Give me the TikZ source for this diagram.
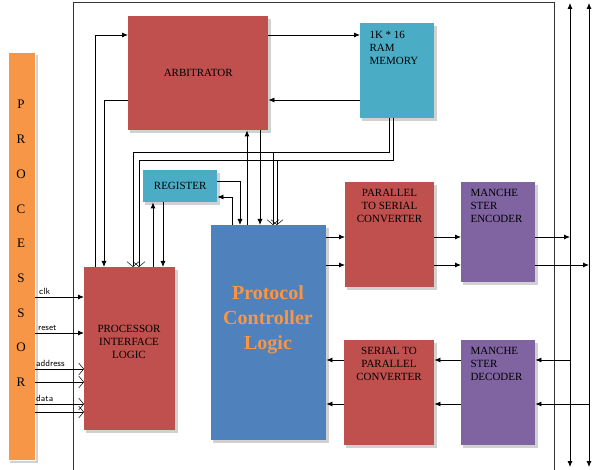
\documentclass[tikz,border=0pt]{standalone}
\usepackage{fontspec}
\setmainfont{Liberation Serif}
\usetikzlibrary{arrows.meta}
\definecolor{cred}{HTML}{C0504D}
\definecolor{cblue}{HTML}{4F81BD}
\definecolor{ccyan}{HTML}{4BACC6}
\definecolor{cpurp}{HTML}{8064A2}
\definecolor{corg}{HTML}{F79646}
\begin{document}
\begin{tikzpicture}[x=1pt,y=-1pt,
  blk/.style={draw=white,line width=1.5pt,minimum width=#1,inner sep=0pt},
  ln/.style={line width=0.8pt},
  ar/.style={ln,-{Latex[length=6pt,width=5pt]}},
  oa/.style={ln,-{Straight Barb[length=5pt,width=12pt,line width=0.5pt]}},
  lbl/.style={font=\fontsize{11}{13}\selectfont,align=center},
  sh/.style={fill=black!20}]
\useasboundingbox (0,0) rectangle (600,470);
% shadows
\foreach \a/\b/\c/\d in {8/52/35/460,128/16/268/130,360/23/434/118,143/170/217/202,84/267/175/430,211/225/326/440,345/182/434/287,461/182/535/282,344/340/434/445,461/340/535/445}
  \fill[black!18] (\a+2,\b+3) rectangle (\c+3,\d+3);
% frame
\draw[ln,black!80] (73,470) -- (73,2) -- (554,2) -- (554,470);
% blocks
\node[draw=white,fill=corg,minimum width=27pt,minimum height=408pt,inner sep=0,anchor=north west] (proc) at (8,52) {};
\foreach \l [count=\i] in {P,R,O,C,E,S,S,O,R}
  \node[font=\fontsize{13}{13}\selectfont] at (21,70+34.7*\i) {\l};
\node[fill=cred,minimum width=140pt,minimum height=114pt,anchor=north west,inner sep=0] (arb) at (128,16) {};
\node[lbl] at (arb.center) {ARBITRATOR};
\node[fill=ccyan,minimum width=74pt,minimum height=95pt,anchor=north west,inner sep=0] (ram) at (360,23) {};
\node[lbl,align=left,anchor=north west] at (366,28) {1K * 16\\RAM\\MEMORY};
\node[fill=ccyan,minimum width=74pt,minimum height=32pt,anchor=north west,inner sep=0] (reg) at (143,170) {};
\node[lbl] at (reg.center) {REGISTER};
\node[fill=cred,minimum width=91pt,minimum height=163pt,anchor=north west,inner sep=0] (pil) at (84,267) {};
\node[lbl] at (129,342) {PROCESSOR\\INTERFACE\\LOGIC};
\node[fill=cblue,minimum width=115pt,minimum height=215pt,anchor=north west,inner sep=0] (pcl) at (211,225) {};
\node[font=\bfseries\fontsize{20}{25}\selectfont,text=corg,align=center] at (268,320) {Protocol\\Controller\\Logic};
\node[fill=cred,minimum width=89pt,minimum height=105pt,anchor=north west,inner sep=0] (ps) at (345,182) {};
\node[lbl,anchor=north] at (389.5,186) {PARALLEL\\TO SERIAL\\CONVERTER};
\node[fill=cpurp,minimum width=74pt,minimum height=100pt,anchor=north west,inner sep=0] (enc) at (461,182) {};
\node[lbl,align=left,anchor=north west] at (467,186) {MANCHE\\STER\\ENCODER};
\node[fill=cred,minimum width=90pt,minimum height=105pt,anchor=north west,inner sep=0] (sp) at (344,340) {};
\node[lbl,anchor=north] at (389,344) {SERIAL TO\\PARALLEL\\CONVERTER};
\node[fill=cpurp,minimum width=74pt,minimum height=105pt,anchor=north west,inner sep=0] (dec) at (461,340) {};
\node[lbl,align=left,anchor=north west] at (467,344) {MANCHE\\STER\\DECODER};
% buses
\coordinate (b1t) at (570,3); \coordinate (b1b) at (570,467);
\coordinate (b2t) at (589,3); \coordinate (b2b) at (589,467);
\draw[ln,{Latex[length=6pt,width=5pt]}-{Latex[length=6pt,width=5pt]}] (b1t) -- (b1b);
\draw[ln,{Latex[length=6pt,width=5pt]}-{Latex[length=6pt,width=5pt]}] (b2t) -- (b2b);
% arbitrator <-> ram
\draw[ar] (arb.east |- 0,35) -- (ram.west |- 0,35);
\draw[ar] (ram.west |- 0,100) -- (arb.east |- 0,100);
\draw[ar] (pil.north -| 95,0) -- (95,35) -- (arb.west |- 0,35);
\draw[ar] (arb.west |- 0,100) -- (104,100) -- (pil.north -| 104,0);
\draw[ar] (pcl.north -| 247,0) -- (arb.south -| 247,0);
\draw[ar] (arb.south -| 260,0) -- (pcl.north -| 260,0);
% ram bottom lines
\draw[oa] (ram.south -| 389,0) -- (389,152) -- (133,152) -- (pil.north -| 133,0);
\draw[oa] (ram.south -| 393,0) -- (393,160) -- (139,160) -- (pil.north -| 139,0);
\draw[oa] (273,152) -- (pcl.north -| 273,0);
\draw[oa] (277,160) -- (pcl.north -| 277,0);
% register
\draw[ar] (reg.east |- 0,181) -- (240,181) -- (pcl.north -| 240,0);
\draw[ar] (pcl.north -| 232,0) -- (232,197) -- (reg.east |- 0,197);
\draw[ar] (pil.north -| 153,0) -- (reg.south -| 153,0);
\draw[ar] (reg.south -| 163,0) -- (pil.north -| 163,0);
% processor inputs
\draw[ar] (proc.east |- 0,297) -- (pil.west |- 0,297);
\draw[ar] (proc.east |- 0,333) -- (pil.west |- 0,333);
\draw[oa] (proc.east |- 0,369) -- (pil.west |- 0,369);
\draw[oa] (proc.east |- 0,382) -- (pil.west |- 0,382);
\draw[oa] (proc.east |- 0,404) -- (pil.west |- 0,404);
\draw[oa] (proc.east |- 0,412) -- (pil.west |- 0,412);
\node[font=\sffamily\fontsize{9}{9}\selectfont,anchor=south west,inner sep=1pt] at (38,296) {clk};
\node[font=\sffamily\fontsize{9}{9}\selectfont,anchor=south west,inner sep=1pt] at (37,332) {reset};
\node[font=\sffamily\fontsize{9}{9}\selectfont,anchor=south west,inner sep=1pt] at (35,368) {address};
\node[font=\sffamily\fontsize{9}{9}\selectfont,anchor=south west,inner sep=1pt] at (35,403) {data};
% tx path
\draw[ar] (pcl.east |- 0,237) -- (ps.west |- 0,237);
\draw[ar] (pcl.east |- 0,265) -- (ps.west |- 0,265);
\draw[ar] (ps.east |- 0,237) -- (enc.west |- 0,237);
\draw[ar] (ps.east |- 0,265) -- (enc.west |- 0,265);
\draw[ar] (enc.east |- 0,237) -- (b1t |- 0,237);
\draw[ar] (enc.east |- 0,265) -- (b2t |- 0,265);
% rx path
\draw[ar] (b1t |- 0,360) -- (dec.east |- 0,360);
\draw[ar] (b2t |- 0,404) -- (dec.east |- 0,404);
\draw[ar] (dec.west |- 0,360) -- (sp.east |- 0,360);
\draw[ar] (dec.west |- 0,404) -- (sp.east |- 0,404);
\draw[ar] (sp.west |- 0,360) -- (pcl.east |- 0,360);
\draw[ar] (sp.west |- 0,404) -- (pcl.east |- 0,404);
\end{tikzpicture}
\end{document}
